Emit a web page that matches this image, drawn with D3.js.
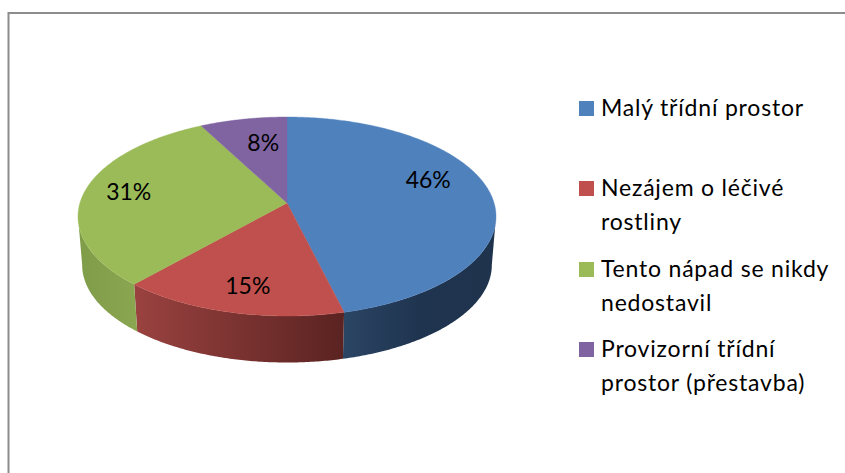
<!DOCTYPE html>
<html>
<head>
<meta charset="utf-8">
<script src="https://cdn.jsdelivr.net/npm/d3@7"></script>
<style>
  html, body { margin: 0; padding: 0; background: #fff; }
  svg { display: block; }
  text { font-family: Lato, "Open Sans", sans-serif; fill: #000; }
</style>
</head>
<body>
<div id="chart"></div>
<script>
// counts behind the printed percentages
const categories = ["Malý třídní prostor", "Nezájem o léčivé rostliny", "Tento nápad se nikdy nedostavil", "Provizorní třídní prostor (přestavba)"];
const values = [6, 2, 4, 1];
const legendLines = [["Malý třídní prostor"], ["Nezájem o léčivé", "rostliny"], ["Tento nápad se nikdy", "nedostavil"], ["Provizorní třídní", "prostor (přestavba)"]];
const colors = ["#4f81bd", "#c0504d", "#9bbb59", "#8064a2"];

// side wall shades, left to right
const wallShades = [["#2b4564", "#1f344f", "#1f334d"], ["#9a4240", "#5a2321"], ["#7f9c48", "#8ba651"], ["#8064a2", "#8064a2"]];

const width = 845, height = 473;
const cx = 287, cy = 216.5;          // centre of the top ellipse
const rx = 209, ry = 99.5;
const tilt = 13.5 / ry;              // perspective, moves the apex up from the ellipse centre
const depth = 48.5, bottomScale = 0.98;
const labelRadius = 0.7;
const labelNudge = [[-1, -15], [-1, 10], [-16, -3], [8, 1]];
const legendX = 579, legendTextX = 601, swatch = 15;
const legendBaselines = [116, 196, 277, 357];
const lineHeight = 33.5;

const svg = d3.select("#chart").append("svg")
    .attr("width", width)
    .attr("height", height);

// frame, only top and left show in the crop
svg.append("path")
    .attr("d", `M8.5,${height}V13H${width}`)
    .attr("fill", "none")
    .attr("stroke", "#8c8c8c")
    .attr("stroke-width", 2);

// disc coordinates to screen, relative to ellipse centre
function project(a, r) {
    const u = r * Math.sin(a), v = -r * Math.cos(a);
    const w = 1 - tilt * v;
    const A = rx * Math.sqrt(1 - tilt * tilt);
    return [A * u / w, (ry * v - 13.5) / w];
}
const topPoint = (a, r = 1) => { const p = project(a, r); return [cx + p[0], cy + p[1]]; };
const bottomPoint = a => { const p = project(a, 1); return [cx + p[0] * bottomScale, cy + depth + p[1] * bottomScale]; };

const arcs = d3.pie().sort(null).value(d => d)(values);
const line = d3.line();
const defs = svg.append("defs");

const sample = (a0, a1) => {
    const n = Math.max(2, Math.ceil(Math.abs(a1 - a0) / 0.01));
    return d3.range(n + 1).map(i => a0 + (a1 - a0) * i / n);
};

// silhouette of the cake, front part only
const wallStart = Math.acos(-tilt), wallEnd = 2 * Math.PI - wallStart;
const wallGroup = svg.append("g");
arcs.forEach((d, i) => {
    const a0 = Math.max(d.startAngle, wallStart), a1 = Math.min(d.endAngle, wallEnd);
    if (a1 <= a0) return;
    const angles = sample(a0, a1);
    const pts = angles.map(a => topPoint(a)).concat(angles.slice().reverse().map(bottomPoint));
    const xs = d3.extent(pts, p => p[0]);
    const grad = defs.append("linearGradient")
        .attr("id", "wall" + i)
        .attr("gradientUnits", "userSpaceOnUse")
        .attr("x1", xs[0]).attr("x2", xs[1])
        .attr("y1", 0).attr("y2", 0);
    grad.selectAll("stop")
        .data(wallShades[i])
        .join("stop")
        .attr("offset", (c, j) => j / (wallShades[i].length - 1))
        .attr("stop-color", c => c);
    wallGroup.append("path")
        .attr("d", line(pts) + "Z")
        .attr("fill", `url(#wall${i})`);
});

// top face
svg.append("g").selectAll("path")
    .data(arcs)
    .join("path")
    .attr("d", d => line([topPoint(0, 0)].concat(sample(d.startAngle, d.endAngle).map(a => topPoint(a)))) + "Z")
    .attr("fill", (d, i) => colors[i])
    .attr("stroke", (d, i) => colors[i])
    .attr("stroke-width", 0.4);

// percent labels
const total = d3.sum(values);
svg.append("g").selectAll("text")
    .data(arcs)
    .join("text")
    .attr("x", (d, i) => topPoint((d.startAngle + d.endAngle) / 2, labelRadius)[0] + labelNudge[i][0])
    .attr("y", (d, i) => topPoint((d.startAngle + d.endAngle) / 2, labelRadius)[1] + labelNudge[i][1])
    .attr("dy", "0.35em")
    .attr("text-anchor", "middle")
    .attr("font-size", 23)
    .text(d => d3.format(".0%")(d.value / total));

// legend
const legend = svg.append("g").selectAll("g")
    .data(categories)
    .join("g");

legend.append("rect")
    .attr("x", legendX)
    .attr("y", (d, i) => legendBaselines[i] - swatch)
    .attr("width", swatch)
    .attr("height", swatch)
    .attr("fill", (d, i) => colors[i]);

legend.each(function(d, i) {
    d3.select(this).selectAll("text")
        .data(legendLines[i])
        .join("text")
        .attr("x", legendTextX)
        .attr("y", (t, j) => legendBaselines[i] + j * lineHeight)
        .attr("font-size", 23)
        .attr("letter-spacing", 0.8)
        .text(t => t);
});
</script>
</body>
</html>
